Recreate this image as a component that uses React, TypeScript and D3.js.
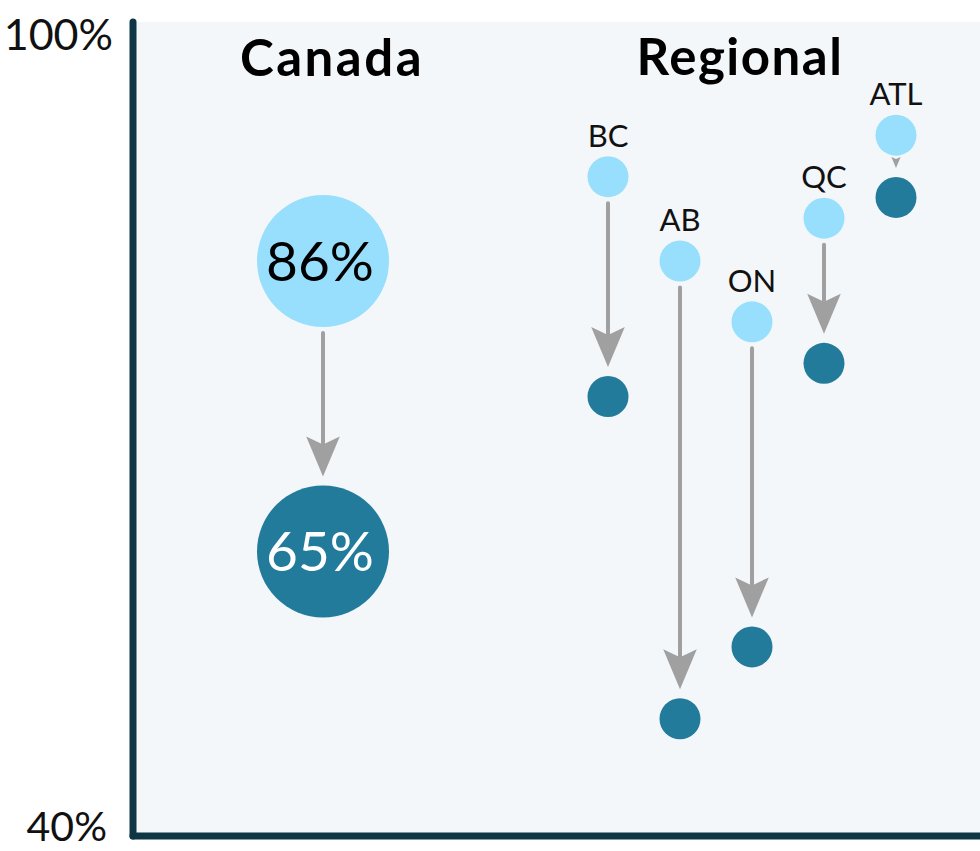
import React from 'react';
import * as d3 from 'd3';

const regions = ['BC', 'AB', 'ON', 'QC', 'ATL'];
const regionBefore = [92.1, 86.0, 81.6, 89.1, 95.1];
const regionAfter = [76.2, 52.9, 58.1, 78.6, 90.6];

const canadaBefore = 86;
const canadaAfter = 65;

const axisLabels = ['100%', '40%'];

const WIDTH = 980;
const HEIGHT = 851;

const LIGHT = '#97dffc';
const DARK = '#237b9b';
const ARROW = '#a0a0a0';
const AXIS = '#0e3645';
const PANEL = '#f3f7fa';
const FONT = 'Lato, "Noto Sans", sans-serif';

export default function App() {
    const yScale = d3.scaleLinear().domain([40, 100]).range([897.2, 67.4]);
    const xRegion = d3.scalePoint<string>().domain(regions).range([608, 896]);
    const canadaX = 323;

    const plot = { left: 133, top: 22, bottom: 836 };

    // grey arrow between the two dots, head shrinks when the gap is short
    const arrow = (x: number, y1: number, y2: number, r: number, key: string) => {
        const start = y1 + r + 6;
        const end = y2 - r - 9;
        const len = end - start;
        const headLen = Math.min(40, Math.max(len, 11));
        const headHalf = headLen * 0.42;
        const notch = headLen * 0.2;
        const lineEnd = end - headLen + notch;
        return (
            <g key={key}>
                {lineEnd > start && (
                    <line x1={x} x2={x} y1={start} y2={lineEnd}
                        stroke={ARROW} strokeWidth={4} strokeLinecap="round" />
                )}
                <path d={`M${x - headHalf},${end - headLen} L${x},${end - headLen + notch} L${x + headHalf},${end - headLen} L${x},${end} Z`}
                    fill={ARROW} />
            </g>
        );
    };

    const rSmall = 20.5;
    const rBig = 66;

    return (
        <svg width={WIDTH} height={HEIGHT} style={{ position: 'absolute', left: 0, top: 0, fontFamily: FONT }}>
            <rect x={0} y={0} width={WIDTH} height={HEIGHT} fill="#ffffff" />
            <rect x={plot.left} y={plot.top} width={WIDTH - plot.left} height={plot.bottom - plot.top} fill={PANEL} />

            {/* axes */}
            <line x1={plot.left} x2={plot.left} y1={plot.top} y2={plot.bottom}
                stroke={AXIS} strokeWidth={7} strokeLinecap="round" />
            <line x1={plot.left} x2={WIDTH} y1={plot.bottom} y2={plot.bottom}
                stroke={AXIS} strokeWidth={7} strokeLinecap="round" />
            <text x={113} y={50} textAnchor="end" fontSize={43} fontWeight={400} fill="#111">{axisLabels[0]}</text>
            <text x={107} y={841} textAnchor="end" fontSize={41} fontWeight={400} fill="#111">{axisLabels[1]}</text>

            {/* titles */}
            <text x={332} y={76} textAnchor="middle" fontSize={51} fontWeight={700} fill="#000" letterSpacing={2.5}>Canada</text>
            <text x={740} y={75} textAnchor="middle" fontSize={51} fontWeight={700} fill="#000" letterSpacing={1.5}>Regional</text>

            {/* Canada */}
            {arrow(canadaX, yScale(canadaBefore), yScale(canadaAfter), rBig, 'canada')}
            <circle cx={canadaX} cy={yScale(canadaBefore)} r={rBig} fill={LIGHT} />
            <circle cx={canadaX} cy={yScale(canadaAfter)} r={rBig} fill={DARK} />
            <text x={canadaX - 3} y={yScale(canadaBefore) + 20} textAnchor="middle" fontSize={55} fontWeight={400} fill="#000">{`${canadaBefore}%`}</text>
            <text x={canadaX - 3} y={yScale(canadaAfter) + 20} textAnchor="middle" fontSize={55} fontWeight={400} fill="#fff">{`${canadaAfter}%`}</text>

            {/* Regions */}
            {regions.map((reg, i) => {
                const x = xRegion(reg) as number;
                const yb = yScale(regionBefore[i]);
                const ya = yScale(regionAfter[i]);
                return (
                    <g key={reg}>
                        {arrow(x, yb, ya, rSmall, reg + '-arrow')}
                        <circle cx={x} cy={yb} r={rSmall} fill={LIGHT} />
                        <circle cx={x} cy={ya} r={rSmall} fill={DARK} />
                        <text x={x} y={yb - 30} textAnchor="middle" fontSize={31} fontWeight={400} fill="#111">{reg}</text>
                    </g>
                );
            })}
        </svg>
    );
}
